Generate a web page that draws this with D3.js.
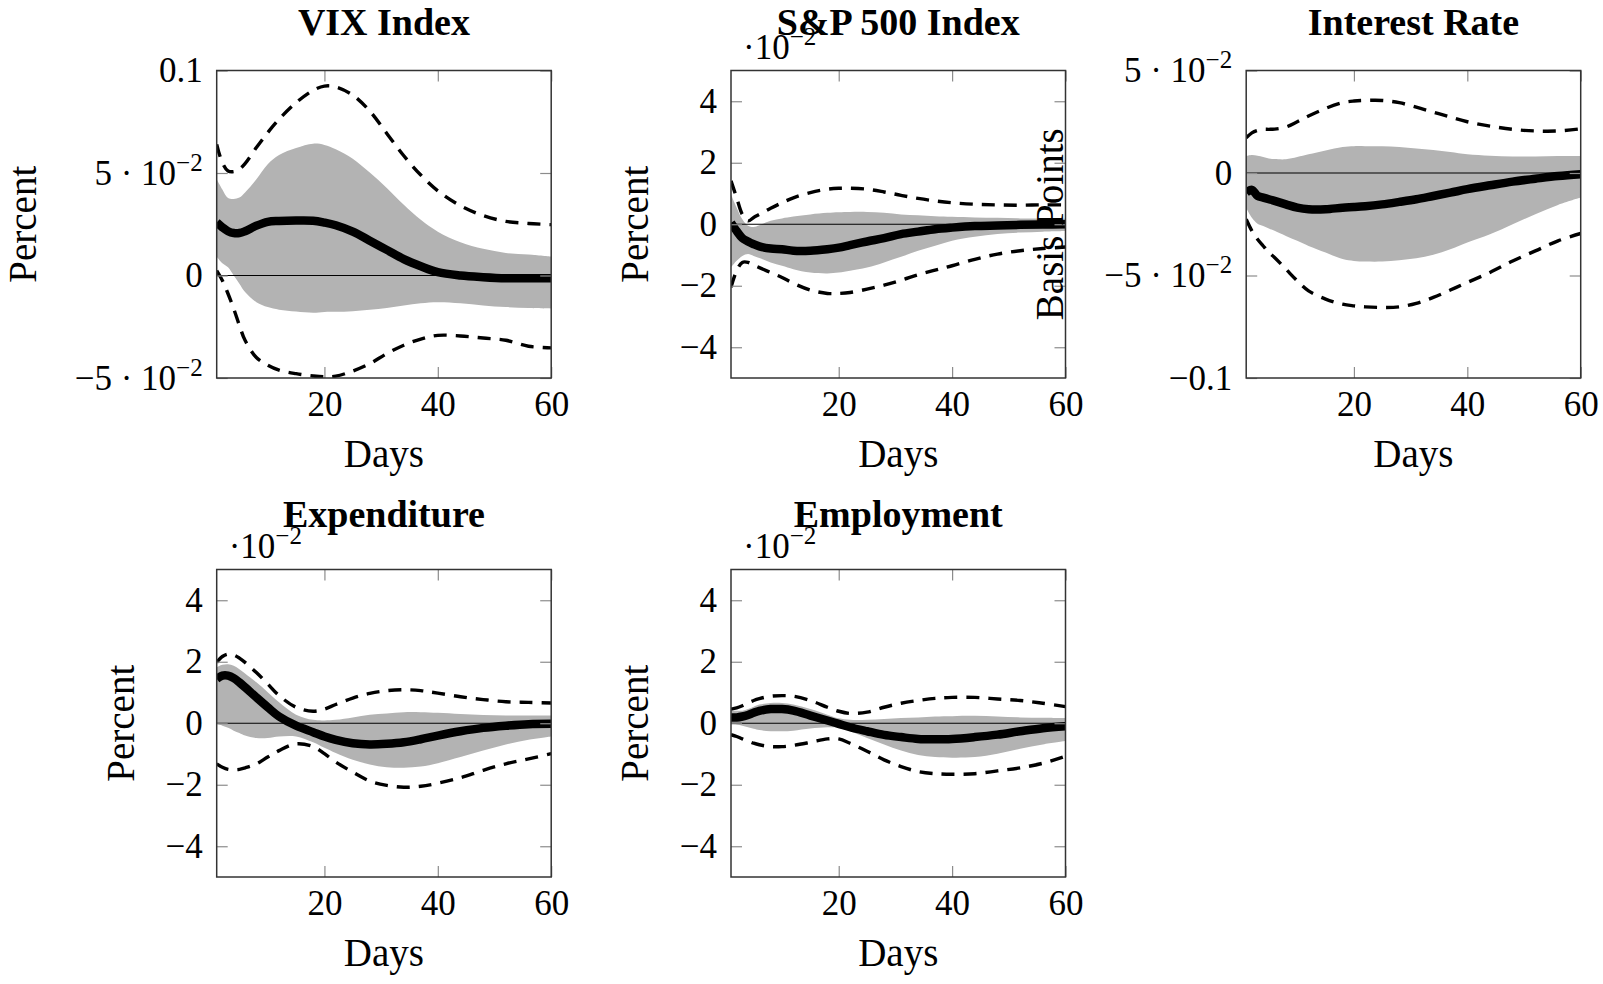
<!DOCTYPE html>
<html>
<head>
<meta charset="utf-8">
<script src="https://cdn.jsdelivr.net/npm/d3@7"></script>
<style>
body { margin: 0; background: #fff; }
svg { font-family: "Liberation Serif", "Times New Roman", serif; }
</style>
</head>
<body>
<script>
var days = [1,2,3,4,5,6,8,10,12,15,18,20,22,25,28,31,34,37,40,44,48,52,56,60]

// VIX Index (percent)
var vixMean   = [0.0259,0.0235,0.0216,0.0207,0.0207,0.0216,0.0243,0.0262,0.0266,0.0268,0.0267,0.0258,0.0245,0.0214,0.017,0.0125,0.008,0.0045,0.0016,0.0000,-0.0008,-0.0013,-0.0013,-0.0013]
var vixBandHi = [0.047,0.042,0.0378,0.0373,0.038,0.0405,0.047,0.0543,0.0588,0.0622,0.0643,0.0637,0.0616,0.057,0.0502,0.0427,0.0345,0.0272,0.0214,0.0162,0.013,0.011,0.0102,0.0092]
var vixBandLo = [0.0092,0.006,0.004,0.0,-0.004,-0.0081,-0.013,-0.0154,-0.0167,-0.0176,-0.0182,-0.0178,-0.0177,-0.0174,-0.0167,-0.0158,-0.0146,-0.0135,-0.013,-0.0135,-0.0146,-0.0154,-0.0159,-0.0162]
var vixDashHi = [0.064,0.055,0.051,0.0507,0.0519,0.0546,0.0624,0.0697,0.0762,0.0843,0.0903,0.0924,0.092,0.088,0.0802,0.0693,0.0584,0.049,0.0413,0.034,0.0292,0.0264,0.0254,0.0248]
var vixDashLo = [0.0024,-0.0024,-0.0089,-0.0162,-0.0243,-0.0316,-0.04,-0.0438,-0.0462,-0.0479,-0.049,-0.0494,-0.0491,-0.0466,-0.043,-0.0381,-0.034,-0.031,-0.0292,-0.0295,-0.0305,-0.0316,-0.0345,-0.0353]

// S&P 500 Index (percent, x 10^-2)
var spMean   = [0.05,-0.22,-0.45,-0.56,-0.65,-0.72,-0.79,-0.81,-0.86,-0.86,-0.81,-0.76,-0.68,-0.56,-0.45,-0.32,-0.24,-0.16,-0.11,-0.06,-0.04,-0.02,-0.01,0]
var spBandHi = [0.97,0.54,0.16,-0.05,-0.09,-0.03,0.11,0.19,0.25,0.32,0.37,0.39,0.4,0.4,0.37,0.32,0.29,0.26,0.24,0.22,0.21,0.19,0.19,0.18]
var spBandLo = [-1.4,-1.19,-1.03,-0.97,-1.03,-1.1,-1.24,-1.35,-1.46,-1.57,-1.6,-1.57,-1.51,-1.41,-1.24,-1.06,-0.86,-0.7,-0.54,-0.41,-0.32,-0.27,-0.24,-0.22]
var spDashHi = [1.41,0.86,0.32,0.11,0.22,0.32,0.52,0.7,0.86,1.03,1.14,1.17,1.17,1.14,1.05,0.94,0.84,0.76,0.7,0.65,0.63,0.62,0.63,0.63]
var spDashLo = [-2.05,-1.51,-1.24,-1.24,-1.33,-1.41,-1.57,-1.73,-1.92,-2.14,-2.25,-2.25,-2.22,-2.11,-1.98,-1.82,-1.64,-1.49,-1.35,-1.14,-0.97,-0.86,-0.79,-0.74]

// Interest Rate (basis points)
var irMean   = [-0.0095,-0.0082,-0.0112,-0.012,-0.0128,-0.0136,-0.0153,-0.0169,-0.0177,-0.0177,-0.0169,-0.0166,-0.0162,-0.0153,-0.0141,-0.0128,-0.0112,-0.0096,-0.0079,-0.006,-0.0042,-0.0028,-0.0015,-0.0006]
var irBandHi = [0.0083,0.0088,0.0084,0.0078,0.0071,0.0068,0.0067,0.0078,0.0091,0.011,0.0127,0.0131,0.0131,0.013,0.0127,0.012,0.0112,0.0102,0.0091,0.0084,0.0081,0.0081,0.0083,0.0083]
var irBandLo = [-0.0169,-0.0218,-0.0247,-0.0258,-0.0271,-0.0282,-0.0307,-0.0331,-0.0356,-0.0388,-0.042,-0.0429,-0.0432,-0.0432,-0.0425,-0.0416,-0.0399,-0.0372,-0.0339,-0.0299,-0.025,-0.0201,-0.0156,-0.012]
var irDashHi = [0.0172,0.0196,0.0208,0.0213,0.0213,0.0214,0.0224,0.025,0.0278,0.0315,0.0343,0.0351,0.0354,0.0354,0.0343,0.0321,0.0297,0.0273,0.025,0.0229,0.0213,0.0205,0.0205,0.0216]
var irDashLo = [-0.0226,-0.0282,-0.0323,-0.0356,-0.0388,-0.0412,-0.0469,-0.0526,-0.0575,-0.0615,-0.064,-0.0648,-0.0653,-0.0656,-0.0653,-0.0636,-0.0607,-0.0571,-0.0534,-0.0485,-0.0429,-0.038,-0.0331,-0.0295]

// Expenditure (percent, x 10^-2)
var exMean   = [1.44,1.55,1.55,1.47,1.33,1.17,0.84,0.52,0.22,-0.08,-0.29,-0.43,-0.54,-0.65,-0.69,-0.67,-0.62,-0.52,-0.4,-0.26,-0.15,-0.08,-0.03,-0.02]
var exBandHi = [1.82,1.9,1.92,1.87,1.76,1.62,1.33,1.01,0.68,0.28,0.11,0.09,0.11,0.19,0.28,0.32,0.36,0.36,0.34,0.3,0.27,0.25,0.25,0.25]
var exBandLo = [-0.02,-0.08,-0.15,-0.24,-0.32,-0.4,-0.48,-0.48,-0.43,-0.43,-0.62,-0.8,-0.97,-1.19,-1.34,-1.43,-1.45,-1.41,-1.3,-1.1,-0.89,-0.69,-0.54,-0.43]
var exDashHi = [1.98,2.17,2.25,2.22,2.12,1.98,1.65,1.28,0.9,0.52,0.39,0.46,0.61,0.82,0.97,1.06,1.09,1.06,0.98,0.86,0.77,0.7,0.68,0.66]
var exDashLo = [-1.32,-1.43,-1.5,-1.51,-1.5,-1.45,-1.32,-1.1,-0.89,-0.67,-0.76,-0.99,-1.26,-1.59,-1.88,-2.02,-2.08,-2.05,-1.95,-1.77,-1.53,-1.32,-1.16,-0.99]

// Employment (percent, x 10^-2)
var emMean   = [0.19,0.19,0.22,0.27,0.34,0.4,0.46,0.46,0.41,0.25,0.09,-0.02,-0.13,-0.26,-0.38,-0.45,-0.51,-0.52,-0.51,-0.45,-0.37,-0.26,-0.16,-0.1]
var emBandHi = [0.41,0.41,0.41,0.46,0.54,0.61,0.66,0.66,0.61,0.46,0.28,0.16,0.11,0.11,0.14,0.17,0.19,0.22,0.23,0.24,0.22,0.19,0.18,0.17]
var emBandLo = [-0.02,-0.04,-0.08,-0.13,-0.18,-0.22,-0.26,-0.26,-0.24,-0.17,-0.13,-0.15,-0.26,-0.48,-0.69,-0.89,-1.03,-1.1,-1.12,-1.1,-0.99,-0.83,-0.69,-0.58]
var emDashHi = [0.46,0.5,0.57,0.66,0.74,0.8,0.88,0.9,0.88,0.74,0.52,0.39,0.32,0.36,0.52,0.65,0.74,0.81,0.84,0.84,0.79,0.74,0.65,0.54]
var emDashLo = [-0.37,-0.43,-0.51,-0.58,-0.65,-0.7,-0.76,-0.76,-0.72,-0.62,-0.51,-0.51,-0.65,-0.91,-1.19,-1.41,-1.57,-1.64,-1.66,-1.64,-1.55,-1.45,-1.3,-1.07]

// ticks
var xTicks = [20, 40, 60]
var vixTicks = [-0.05, 0, 0.05, 0.1], vixTickLabels = ["−5 · 10^−2", "0", "5 · 10^−2", "0.1"]
var pctTicks = [-4, -2, 0, 2, 4],     pctTickLabels = ["−4", "−2", "0", "2", "4"]
var irTicks = [-0.1, -0.05, 0, 0.05], irTickLabels = ["−0.1", "−5 · 10^−2", "0", "5 · 10^−2"]

// layout
var plotW = 334.5, plotH = 307.5
var colLeft = [216.7, 731, 1246.2], rowTop = [70.5, 569.5], titleY = [35, 527]
var tickFont = 35, supFont = 25, labelFont = 39, titleFont = 38

var panels = [
  { title: "VIX Index", col: 0, row: 0, dom: [-0.05, 0.1], ticks: vixTicks, tickLabels: vixTickLabels,
    ylabel: "Percent", ylabelOff: 181, scaled: false,
    mean: vixMean, bandHi: vixBandHi, bandLo: vixBandLo, dashHi: vixDashHi, dashLo: vixDashLo },
  { title: "S&P 500 Index", col: 1, row: 0, dom: [-5, 5], ticks: pctTicks, tickLabels: pctTickLabels,
    ylabel: "Percent", ylabelOff: 83, scaled: true,
    mean: spMean, bandHi: spBandHi, bandLo: spBandLo, dashHi: spDashHi, dashLo: spDashLo },
  { title: "Interest Rate", col: 2, row: 0, dom: [-0.1, 0.05], ticks: irTicks, tickLabels: irTickLabels,
    ylabel: "Basis Points", ylabelOff: 183, scaled: false,
    mean: irMean, bandHi: irBandHi, bandLo: irBandLo, dashHi: irDashHi, dashLo: irDashLo },
  { title: "Expenditure", col: 0, row: 1, dom: [-5, 5], ticks: pctTicks, tickLabels: pctTickLabels,
    ylabel: "Percent", ylabelOff: 83, scaled: true,
    mean: exMean, bandHi: exBandHi, bandLo: exBandLo, dashHi: exDashHi, dashLo: exDashLo },
  { title: "Employment", col: 1, row: 1, dom: [-5, 5], ticks: pctTicks, tickLabels: pctTickLabels,
    ylabel: "Percent", ylabelOff: 83, scaled: true,
    mean: emMean, bandHi: emBandHi, bandLo: emBandLo, dashHi: emDashHi, dashLo: emDashLo }
]

var svg = d3.select("body").append("svg")
    .attr("width", 1603)
    .attr("height", 984)

// write "5 · 10^−2" as text with a raised exponent
function superText(sel, label, small, rise) {
  var parts = label.split("^")
  sel.text(null)
  sel.append("tspan").text(parts[0])
  if (parts.length > 1) {
    sel.append("tspan").attr("dy", -rise).attr("font-size", small).text(parts[1])
  }
}

panels.forEach(function(p, k) {
  var left = colLeft[p.col], top = rowTop[p.row]
  var x = d3.scaleLinear().domain([1, 60]).range([left, left + plotW])
  var y = d3.scaleLinear().domain(p.dom).range([top + plotH, top])
  var g = svg.append("g")

  g.append("clipPath").attr("id", "clip" + k)
    .append("rect")
    .attr("x", left).attr("y", top)
    .attr("width", plotW).attr("height", plotH)

  var pts = days.map(function(d, i) {
    return { d: d, m: p.mean[i], hi: p.bandHi[i], lo: p.bandLo[i], dh: p.dashHi[i], dl: p.dashLo[i] }
  })
  var curve = d3.curveCatmullRom.alpha(0.5)
  var plot = g.append("g").attr("clip-path", "url(#clip" + k + ")")

  plot.append("path")
    .datum(pts)
    .attr("fill", "#b3b3b3")
    .attr("d", d3.area().curve(curve)
      .x(function(d) { return x(d.d) })
      .y0(function(d) { return y(d.lo) })
      .y1(function(d) { return y(d.hi) }))

  plot.append("line")
    .attr("x1", left).attr("x2", left + plotW)
    .attr("y1", y(0)).attr("y2", y(0))
    .attr("stroke", "#000").attr("stroke-width", 1.2)

  ;["dh", "dl"].forEach(function(key) {
    plot.append("path")
      .datum(pts)
      .attr("fill", "none")
      .attr("stroke", "#000")
      .attr("stroke-width", 3.4)
      .attr("stroke-dasharray", "13,9")
      .attr("d", d3.line().curve(curve)
        .x(function(d) { return x(d.d) })
        .y(function(d) { return y(d[key]) }))
  })

  plot.append("path")
    .datum(pts)
    .attr("fill", "none")
    .attr("stroke", "#000")
    .attr("stroke-width", 8.5)
    .attr("d", d3.line().curve(curve)
      .x(function(d) { return x(d.d) })
      .y(function(d) { return y(d.m) }))

  // ticks inside the box on all four sides
  var xb = g.append("g")
    .attr("transform", "translate(0," + (top + plotH) + ")")
    .call(d3.axisBottom(x).tickValues(xTicks).tickSize(-11).tickPadding(13))
  var xt = g.append("g")
    .attr("transform", "translate(0," + top + ")")
    .call(d3.axisTop(x).tickValues(xTicks).tickSize(-11).tickFormat(""))
  var yl = g.append("g")
    .attr("transform", "translate(" + left + ",0)")
    .call(d3.axisLeft(y).tickValues(p.ticks).tickSize(-11).tickPadding(14))
  var yr = g.append("g")
    .attr("transform", "translate(" + (left + plotW) + ",0)")
    .call(d3.axisRight(y).tickValues(p.ticks).tickSize(-11).tickFormat(""))

  ;[xb, xt, yl, yr].forEach(function(a) {
    a.select(".domain").remove()
    a.attr("font-family", null).attr("font-size", tickFont)
    a.selectAll(".tick line").attr("stroke", "#8c8c8c").attr("stroke-width", 1.2)
    a.selectAll(".tick text").attr("fill", "#000")
  })
  yl.selectAll(".tick text").each(function(d, i) {
    superText(d3.select(this), p.tickLabels[p.ticks.indexOf(d)], supFont, 14)
  })

  g.append("rect")
    .attr("x", left).attr("y", top)
    .attr("width", plotW).attr("height", plotH)
    .attr("fill", "none")
    .attr("stroke", "#333")
    .attr("stroke-width", 1.5)

  g.append("text")
    .attr("x", left + plotW / 2)
    .attr("y", titleY[p.row])
    .attr("text-anchor", "middle")
    .attr("font-weight", "bold")
    .attr("font-size", titleFont)
    .text(p.title)

  g.append("text")
    .attr("x", left + plotW / 2)
    .attr("y", top + plotH + 89)
    .attr("text-anchor", "middle")
    .attr("font-size", labelFont)
    .text("Days")

  g.append("text")
    .attr("transform", "translate(" + (left - p.ylabelOff) + "," + (top + plotH / 2) + ") rotate(-90)")
    .attr("text-anchor", "middle")
    .attr("font-size", labelFont)
    .text(p.ylabel)

  if (p.scaled) {
    var s = g.append("text")
      .attr("x", left + 12)
      .attr("y", top - 12)
      .attr("font-size", tickFont)
    superText(s, "·10^−2", supFont, 14)
  }
})
</script>
</body>
</html>
